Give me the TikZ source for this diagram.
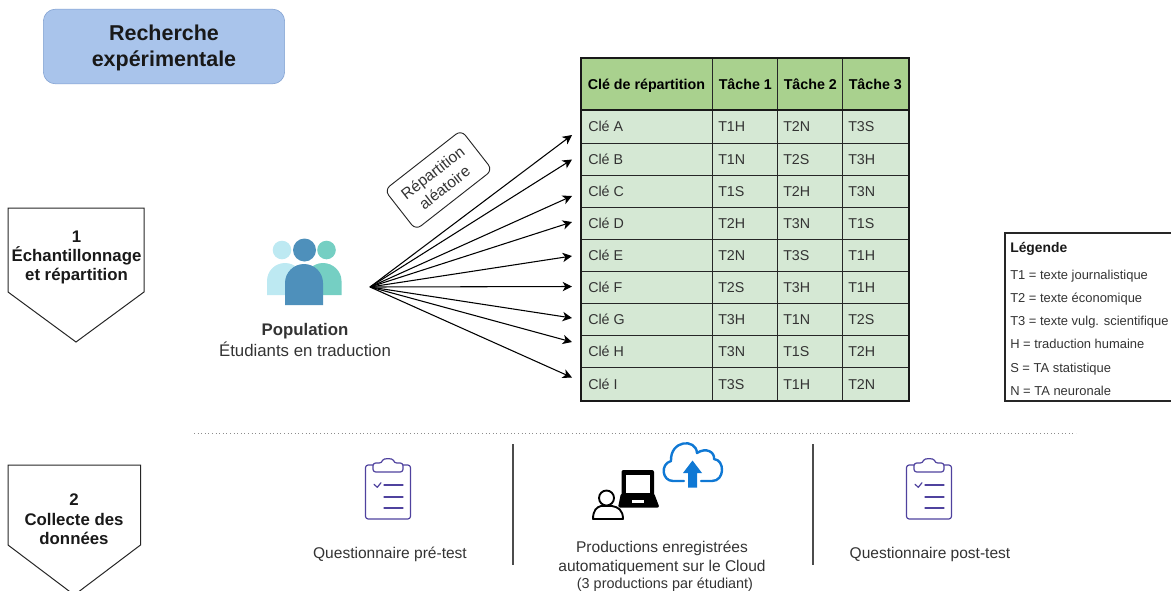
\documentclass[tikz,border=0pt]{standalone}
\usepackage{fontspec}
\setmainfont{Liberation Sans}
\usetikzlibrary{arrows.meta,shapes.geometric}
\definecolor{hdrgreen}{HTML}{A9D18E}
\definecolor{rowgreen}{HTML}{D5E8D4}
\definecolor{titleblue}{HTML}{A9C4EB}
\definecolor{titleedge}{HTML}{7F9FD0}
\definecolor{txt}{HTML}{333333}
\definecolor{pl}{HTML}{BDE9F2}
\definecolor{pm}{HTML}{4E90BB}
\definecolor{pr}{HTML}{75CFC3}
\definecolor{clip}{HTML}{4F429E}
\definecolor{cloud}{HTML}{0F78D4}
\tikzset{
 x=0.75pt,y=-0.75pt,
 cell/.style={draw=black!85,line width=0.7pt,minimum height=#1*0.75pt,inner sep=0pt,anchor=north west},
 celltext/.style={font=\fontsize{10.7pt}{12pt}\selectfont,text=txt,anchor=base west,inner sep=0pt},
 hdrtext/.style={font=\fontsize{10.7pt}{12pt}\selectfont\bfseries,text=black,anchor=base west,inner sep=0pt},
 steptag/.style={font=\fontsize{12.6pt}{14.4pt}\selectfont\bfseries,align=center,inner sep=0pt,text=black!90},
 plain/.style={font=\fontsize{11.65pt}{14.3pt}\selectfont,align=center,inner sep=0pt,text=txt},
 legend/.style={font=\fontsize{9.7pt}{11pt}\selectfont,anchor=base west,inner sep=0pt,text=txt},
 fan/.style={-{Stealth[length=7pt,width=7pt,inset=2pt]},line width=0.8pt,black},
 clipline/.style={draw=clip,line width=0.9pt,line cap=round,line join=round},
}
\newcommand{\clipicon}[2]{%
 \begin{scope}[shift={(#1,#2)}]
  \draw[clipline,rounded corners=2pt] (-22.5,-25) rectangle (22.5,29);
  \draw[clipline,fill=white,rounded corners=2pt] (-15,-18) -- (-15,-27) -- (-6,-27) .. controls (-5,-32) and (5,-32) .. (6,-27) -- (15,-27) -- (15,-18) -- cycle;
  \draw[clipline] (-14,-5.7) -- (-10.7,-2.7) -- (-7,-7.3);
  \draw[clipline] (-4,-5) -- (15,-5) (-4,7) -- (15,7) (-4,18) -- (15,18);
 \end{scope}}
\begin{document}
\begin{tikzpicture}
\useasboundingbox (0,0) rectangle (1171,590);
% title
\node[draw=titleedge,fill=titleblue,rounded corners=9pt,minimum width=181pt,minimum height=56pt,inner sep=0pt] (title) at (164,46.5) {};
\node[align=center,inner sep=0pt,font=\fontsize{16.1pt}{19.5pt}\selectfont\bfseries,text=black!90] (titletxt) at (164,47.5) {Recherche\\expérimentale};
% step shapes
\draw[line width=0.75pt,black!85] (8,208) -- (144,208) -- (144,292) -- (76,342) -- (8,292) -- cycle;
\node[steptag] (s1) at (76.5,257.3) {1\\Échantillonnage\\et répartition};
\draw[line width=0.75pt,black!85] (8,465) -- (140.5,465) -- (140.5,545) -- (74.3,595) -- (8,545) -- cycle;
\node[steptag] (s2) at (74,519.3) {2\\Collecte des\\données};
% people
\fill[pl] (282,250) circle (9.3);
\fill[pl] (267,295) -- (267,281) .. controls (267,271) and (275,263) .. (285,263) .. controls (295,263) and (303,271) .. (303,281) -- (303,295) -- cycle;
\fill[pr] (326.5,250) circle (9.3);
\fill[pr] (305,295) -- (305,281) .. controls (305,271) and (313,263) .. (323,263) .. controls (333,263) and (341.5,271) .. (341.5,281) -- (341.5,295) -- cycle;
\fill[pm] (304.5,250) circle (11.5);
\fill[pm] (285,305) -- (285,283) .. controls (285,272.5) and (293.5,264) .. (304,264) .. controls (314.5,264) and (323,272.5) .. (323,283) -- (323,305) -- cycle;
\node[font=\fontsize{12.6pt}{14pt}\selectfont\bfseries,text=txt,inner sep=0pt] (pop) at (305,331.5) {Population};
\node[font=\fontsize{12.6pt}{14pt}\selectfont,text=txt,inner sep=0pt] (etu) at (305,349.3) {Étudiants en traduction};
% repartition tag
\node[draw=black!85,rounded corners=5pt,rotate=38,minimum width=73pt,minimum height=38pt,inner sep=0pt,align=center,font=\fontsize{11.7pt}{14.3pt}\selectfont,text=txt,line width=0.7pt] (rep) at (438.5,180) {Répartition\\aléatoire};
% table
\foreach \nm/\xa/\w/\t in {a/581/131/Clé de répartition,b/712/65/Tâche 1,c/777/65/Tâche 2,d/842/67/Tâche 3}{
 \node[cell=52,fill=hdrgreen,minimum width=\w*0.75pt] (h\nm) at (\xa,58) {};
 \node[hdrtext] (ht\nm) at (\xa+6.5,89) {\t};
}
\foreach \r/\ya/\h/\k/\p/\q/\s in {
 1/110/33/Clé A/T1H/T2N/T3S,
 2/143/32/Clé B/T1N/T2S/T3H,
 3/175/32/Clé C/T1S/T2H/T3N,
 4/207/32/Clé D/T2H/T3N/T1S,
 5/239/32/Clé E/T2N/T3S/T1H,
 6/271/32/Clé F/T2S/T3H/T1H,
 7/303/32/Clé G/T3H/T1N/T2S,
 8/335/32/Clé H/T3N/T1S/T2H,
 9/367/34/Clé I/T3S/T1H/T2N}{
 \node[cell=\h,fill=rowgreen,minimum width=98.25pt] (r\r a) at (581,\ya) {};
 \node[cell=\h,fill=rowgreen,minimum width=48.75pt] (r\r b) at (712,\ya) {};
 \node[cell=\h,fill=rowgreen,minimum width=48.75pt] (r\r c) at (777,\ya) {};
 \node[cell=\h,fill=rowgreen,minimum width=50.25pt] (r\r d) at (842,\ya) {};
 \node[celltext] (k\r) at (588,\ya+\h/2+5) {\k};
 \node[celltext] (p\r) at (718,\ya+\h/2+5) {\p};
 \node[celltext] (q\r) at (783,\ya+\h/2+5) {\q};
 \node[celltext] (z\r) at (848,\ya+\h/2+5) {\s};
}
\draw[line width=1.5pt,black!90] (581,58) rectangle (909,401);
\draw[line width=1.8pt,black!90] (581,110) -- (909,110);
% fan
\coordinate (src) at (370,287);
\foreach \i/\y in {1/135,2/159.5,3/196,4/222,5/256,6/286.5,7/318,8/342,9/377.5}{
 \coordinate (e\i) at (572,\y);
 \draw[fan] (src) -- (e\i);
}
% legend
\draw[line width=0.8pt,black!85] (1171,233) -- (1005,233) -- (1005,401) -- (1171,401);
\node[legend,font=\fontsize{10.4pt}{12pt}\selectfont\bfseries,text=black!90] (lg) at (1010,252.5) {Légende};
\foreach \n/\y/\t in {a/279/T1 = texte journalistique,b/302/T2 = texte économique,c/325.5/T3 = texte vulg. scientifique,d/348.5/H = traduction humaine,e/372.5/S = TA statistique,f/395.5/N = TA neuronale}{
 \node[legend] (l\n) at (1010,\y) {\t};
}
% separator
\coordinate (sa) at (194,433); \coordinate (sb) at (1076,433);
\draw[line width=0.7pt,black!45,dotted] (sa) -- (sb);
% vertical rules
\coordinate (v1a) at (513,444); \coordinate (v1b) at (513,565);
\coordinate (v2a) at (813,444); \coordinate (v2b) at (813,565);
\draw[line width=1pt,black!70] (v1a) -- (v1b);
\draw[line width=1pt,black!70] (v2a) -- (v2b);
% clipboards
\clipicon{388}{490}
\clipicon{929}{490}
% laptop & user
\fill[black,rounded corners=1.5pt] (621.5,470) rectangle (654,500);
\fill[white] (625.5,475) rectangle (650,493);
\fill[black,rounded corners=1.5pt] (621,493) -- (654,493) -- (659.5,507.5) -- (618,507.5) -- cycle;
\fill[white] (632,500) rectangle (644,503);
\draw[black,fill=white,line width=1.4pt] (606.5,498) circle (7.5);
\draw[black,fill=white,line width=1.4pt,line join=round] (593,519) .. controls (593,510) and (597,507) .. (601,506) -- (612,506) .. controls (618,507) and (623,510) .. (623,519) -- cycle;
% cloud
\draw[cloud,line width=1.8pt,line join=round,line cap=round] (684,481) -- (673,481) .. controls (662,481) and (660,464) .. (671,461) .. controls (670,440) and (696,438) .. (697,453) .. controls (706,447) and (715,452) .. (714,459) .. controls (725,460) and (725,481) .. (712,481) -- (701,481);
\fill[cloud] (692.5,460.5) -- (702,473) -- (697,473) -- (697,487.5) -- (688,487.5) -- (688,473) -- (683,473) -- cycle;
% captions
\node[plain] (c1) at (390,554) {Questionnaire pré-test};
\node[plain] (c2) at (930,554) {Questionnaire post-test};
\node[plain,anchor=north] (c3) at (662,540.5) {Productions enregistrées\\automatiquement sur le Cloud\\[-1.5pt]{\fontsize{10.8pt}{12pt}\selectfont\hspace*{4.5pt}(3 productions par étudiant)}};
\end{tikzpicture}
\end{document}
